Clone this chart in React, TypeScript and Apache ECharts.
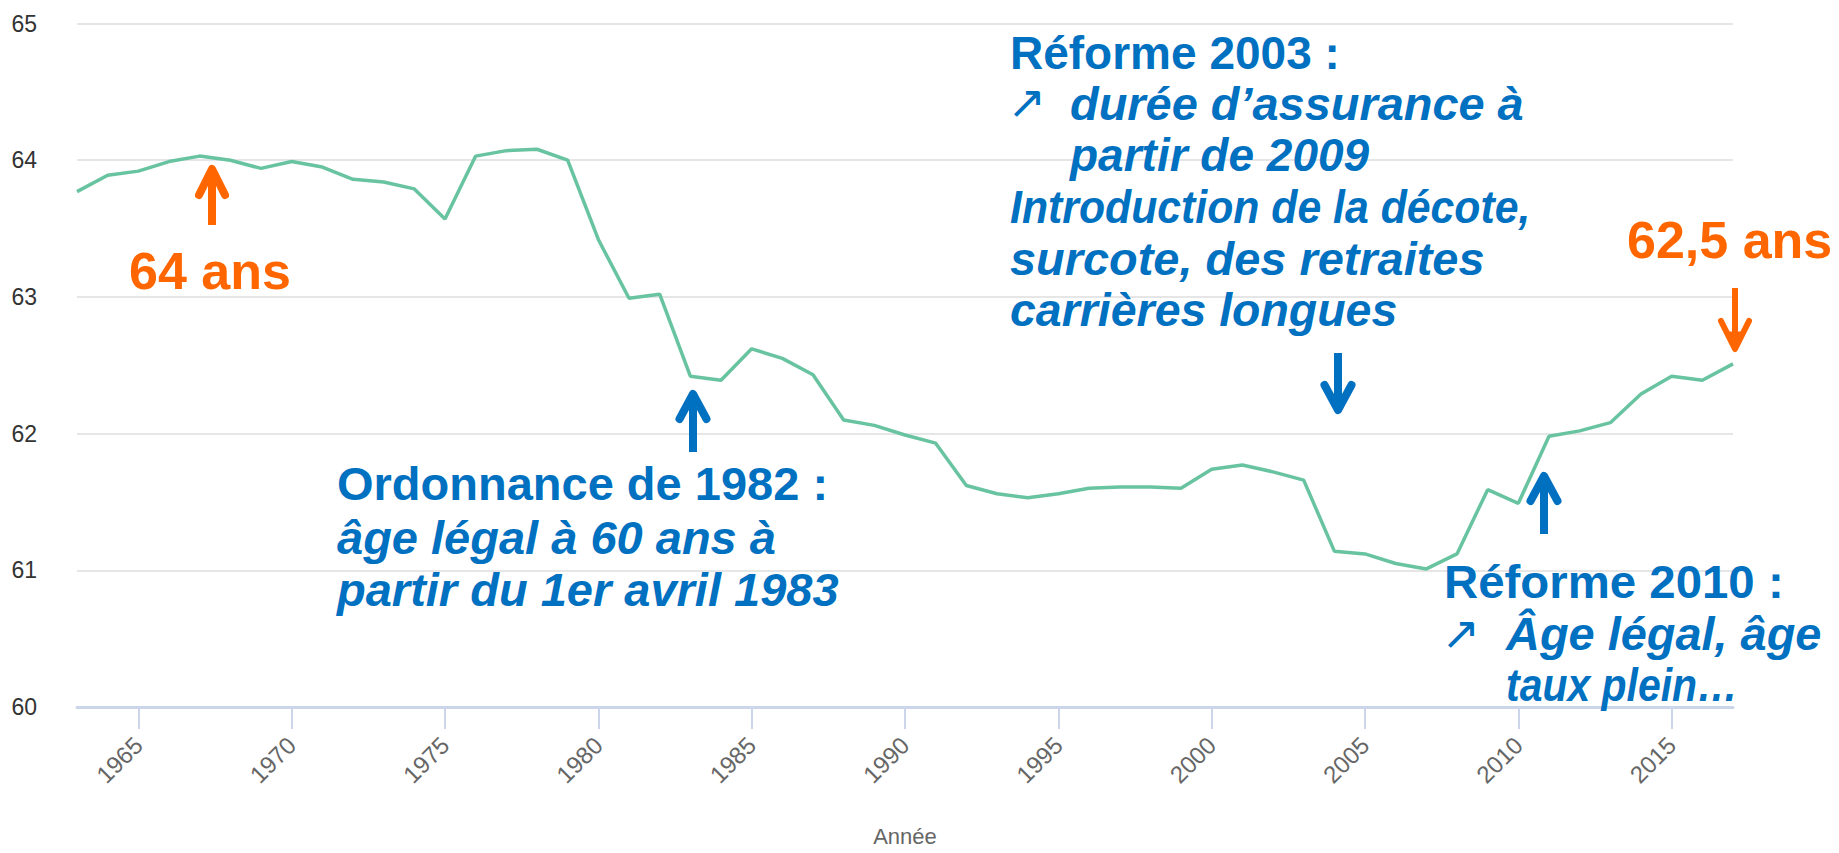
import React, { useEffect, useRef } from "react";
import * as echarts from "echarts";

const years: string[] = [
  "1963","1964","1965","1966","1967","1968","1969","1970","1971","1972",
  "1973","1974","1975","1976","1977","1978","1979","1980","1981","1982",
  "1983","1984","1985","1986","1987","1988","1989","1990","1991","1992",
  "1993","1994","1995","1996","1997","1998","1999","2000","2001","2002",
  "2003","2004","2005","2006","2007","2008","2009","2010","2011","2012",
  "2013","2014","2015","2016","2017",
];

const ageValues: number[] = [
  63.77, 63.89, 63.92, 63.99, 64.03, 64.0, 63.94, 63.99, 63.95, 63.86,
  63.84, 63.79, 63.57, 64.03, 64.07, 64.08, 64.0, 63.42, 62.99, 63.02,
  62.42, 62.39, 62.62, 62.55, 62.43, 62.1, 62.06, 61.99, 61.93, 61.62,
  61.56, 61.53, 61.56, 61.6, 61.61, 61.61, 61.6, 61.74, 61.77, 61.72,
  61.66, 61.14, 61.12, 61.05, 61.01, 61.12, 61.59, 61.49, 61.98, 62.02,
  62.08, 62.29, 62.42, 62.39, 62.51,
];

const yMin = 60;
const yMax = 65;
const xAxisName = "Année";

const BLUE = "#0070c0";
const ORANGE = "#ff6600";
const FONT = "'Liberation Sans', Arial, sans-serif";

function txt(text: string, x: number, y: number, color: string, size: number, italic = false, sx = 1): any {
  return {
    type: "text",
    x,
    y,
    z: 100,
    scaleX: sx,
    style: {
      text,
      fill: color,
      fontSize: size,
      fontWeight: "bold",
      fontStyle: italic ? "italic" : "normal",
      fontFamily: FONT,
      verticalAlign: "middle",
      align: "left",
    },
  };
}

function arrowSym(x: number, y: number): any {
  return {
    type: "text",
    x,
    y,
    z: 100,
    style: {
      text: "↗",
      fill: BLUE,
      fontSize: 46,
      fontFamily: "'DejaVu Sans', sans-serif",
      verticalAlign: "middle",
      align: "center",
    },
  };
}

// vertical arrow: tip at yTip, tail at yTail
function arrow(x: number, yTail: number, yTip: number, color: string, shaftW: number, headW: number, headH: number, headLW: number): any[] {
  const dir = yTip < yTail ? 1 : -1; // 1 means pointing up
  const base = yTip + dir * headH;
  return [
    {
      type: "line",
      z: 100,
      shape: { x1: x, y1: yTail, x2: x, y2: yTip + dir * 6 },
      style: { stroke: color, lineWidth: shaftW, lineCap: "butt" },
    },
    {
      type: "polyline",
      z: 100,
      shape: {
        points: [
          [x - headW / 2 + headLW / 2, base - dir * headLW / 2],
          [x, yTip + dir * headLW / 2],
          [x + headW / 2 - headLW / 2, base - dir * headLW / 2],
        ],
      },
      style: { stroke: color, lineWidth: headLW, lineCap: "round", lineJoin: "round", fill: null },
    },
    {
      type: "polygon",
      z: 100,
      shape: {
        points: [
          [x, yTip + dir * 2],
          [x - headW * 0.22, yTip + dir * headH * 0.6],
          [x + headW * 0.22, yTip + dir * headH * 0.6],
        ],
      },
      style: { fill: color },
    },
  ];
}

export default function App() {
  const ref = useRef<HTMLDivElement>(null);

  useEffect(() => {
    if (!ref.current) return;
    const chart = echarts.init(ref.current, null, { renderer: "svg" });
    const tickFilter = (_idx: number, val: string) => Number(val) % 5 === 0;
    const option: any = {
      animation: false,
      backgroundColor: "#ffffff",
      grid: { left: 77, right: 106, top: 23.5, bottom: 146, containLabel: false },
      xAxis: {
        type: "category",
        data: years,
        boundaryGap: false,
        name: xAxisName,
        nameLocation: "middle",
        nameGap: 118,
        nameTextStyle: { color: "#666666", fontSize: 22, fontFamily: FONT },
        axisLine: { show: true, lineStyle: { color: "#ccd6eb", width: 3 } },
        axisTick: { show: true, interval: tickFilter, length: 22, lineStyle: { color: "#ccd6eb", width: 2 } },
        axisLabel: {
          interval: tickFilter,
          rotate: 45,
          margin: 34,
          color: "#666666",
          fontSize: 24,
          fontFamily: FONT,
        },
        splitLine: { show: false },
      },
      yAxis: {
        type: "value",
        min: yMin,
        max: yMax,
        interval: 1,
        axisLine: { show: false },
        axisTick: { show: false },
        axisLabel: { color: "#333333", fontSize: 23, fontFamily: FONT, margin: 40 },
        splitLine: { lineStyle: { color: "#e6e6e6", width: 2 } },
      },
      series: [
        {
          type: "line",
          data: ageValues,
          symbol: "none",
          lineStyle: { color: "#68c3a0", width: 3.5 },
        },
      ],
      graphic: {
        elements: [
          ...arrow(212, 225, 165, ORANGE, 8, 34, 34, 8),
          txt("64 ans", 129, 271, ORANGE, 52),
          ...arrow(693, 452, 390, BLUE, 8, 35, 33, 8),
          txt("Ordonnance de 1982 :", 337, 483, BLUE, 47),
          txt("âge légal à 60 ans à", 337, 537, BLUE, 47, true),
          txt("partir du 1er avril 1983", 337, 589, BLUE, 47, true),
          txt("Réforme 2003 :", 1010, 53, BLUE, 46),
          arrowSym(1027, 102),
          txt("durée d’assurance à", 1070, 104, BLUE, 46, true, 1.02),
          txt("partir de 2009", 1070, 155, BLUE, 46, true),
          txt("Introduction de la décote,", 1010, 207, BLUE, 46, true, 0.93),
          txt("surcote, des retraites", 1010, 259, BLUE, 46, true, 1.02),
          txt("carrières longues", 1010, 310, BLUE, 46, true, 1.01),
          ...arrow(1338, 353, 414, BLUE, 8, 35, 33, 8),
          txt("62,5 ans", 1627, 240, ORANGE, 52),
          ...arrow(1735, 288, 352, ORANGE, 6, 34, 34, 6),
          ...arrow(1544, 534, 472, BLUE, 8, 35, 33, 8),
          txt("Réforme 2010 :", 1444, 582, BLUE, 46, false, 1.03),
          arrowSym(1461, 633),
          txt("Âge légal, âge", 1506, 634, BLUE, 46, true, 1.02),
          txt("taux plein…", 1506, 685, BLUE, 46, true, 0.89),
        ],
      },
    };
    chart.setOption(option);
    return () => chart.dispose();
  }, []);

  return (
    <div
      ref={ref}
      style={{ position: "fixed", left: 0, top: 0, width: 1839, height: 853, background: "#fff" }}
    />
  );
}
